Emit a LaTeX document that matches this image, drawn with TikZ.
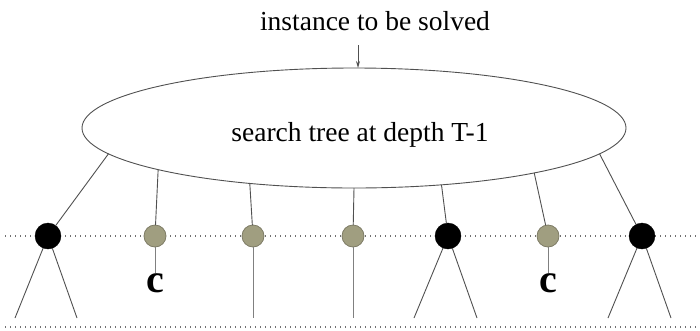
\documentclass[tikz,border=0pt]{standalone}
\usepackage{fontspec}
\setmainfont{Liberation Serif}
\usetikzlibrary{shapes.geometric,arrows.meta}
\definecolor{nodegray}{HTML}{A09E80}
\definecolor{nodeedge}{HTML}{7E7C66}
\definecolor{linegray}{HTML}{505050}
\definecolor{dotgray}{HTML}{707070}
\begin{document}
\begin{tikzpicture}[x=1pt,y=-1pt,
  edge/.style={draw=linegray,line width=0.9pt},
  dotline/.style={draw=dotgray,line width=1.2pt,dash pattern=on 1.4pt off 3.6pt},
  blacknode/.style={circle,fill=black,draw=black,minimum size=26pt,inner sep=0pt,outer sep=0pt},
  graynode/.style={circle,fill=nodegray,draw=nodeedge,line width=0.8pt,minimum size=22pt,inner sep=0pt,outer sep=0pt},
  clabel/.style={font=\fontsize{40}{40}\selectfont\bfseries,inner sep=0pt},
  lbl/.style={font=\fontsize{27.5}{30}\selectfont,inner sep=0pt}]
\useasboundingbox (0,0) rectangle (700,330);
% dotted levels
\draw[dotline] (5,236) -- (700,236);
\draw[dotline] (5,327) -- (700,327);
% title and arrow
\node[lbl,anchor=base] (T) at (375,30) {instance to be solved};
\node[ellipse,draw=linegray,line width=0.9pt,minimum width=544pt,minimum height=120pt,inner sep=0pt,outer sep=0pt] (E) at (354,128) {};
\node[lbl,anchor=base] (S) at (360,141) {search tree at depth T-1};
\coordinate (a0) at (358,45);
\draw[edge,-{Stealth[length=7pt,width=4pt]}] (a0) -- (a0 |- E.north);
% level nodes
\node[blacknode] (b1) at (48,236) {};
\node[graynode]  (g1) at (155,236) {};
\node[graynode]  (g2) at (253,236) {};
\node[graynode]  (g3) at (353,236) {};
\node[blacknode] (b2) at (448,236) {};
\node[graynode]  (g4) at (548,236) {};
\node[blacknode] (b3) at (642,236) {};
% connectors from the ellipse
\draw[edge] (E.186.9) -- (b1);
\draw[edge] (E.192.8) -- (g1);
\draw[edge] (E.208.9) -- (g2);
\draw[edge] (E.270) -- (g3);
\draw[edge] (E.327.5) -- (b2);
\draw[edge] (E.346.5) -- (g4);
\draw[edge] (E.354.1) -- (b3);
% leaves
\coordinate (b1l) at (15,318);  \coordinate (b1r) at (77,318);
\coordinate (b2l) at (414,318); \coordinate (b2r) at (477,318);
\coordinate (b3l) at (608,318); \coordinate (b3r) at (671,318);
\coordinate (g2e) at (253,318); \coordinate (g3e) at (353,318);
\draw[edge] (b1) -- (b1l); \draw[edge] (b1) -- (b1r);
\draw[edge] (b2) -- (b2l); \draw[edge] (b2) -- (b2r);
\draw[edge] (b3) -- (b3l); \draw[edge] (b3) -- (b3r);
\draw[edge,draw=gray] (g2) -- (g2e);
\draw[edge,draw=gray] (g3) -- (g3e);
\node[clabel] (c1) at (155,283) {c};
\node[clabel] (c2) at (548,283) {c};
\draw[edge,draw=gray] (g1) -- (c1);
\draw[edge,draw=gray] (g4) -- (c2);
\end{tikzpicture}
\end{document}
